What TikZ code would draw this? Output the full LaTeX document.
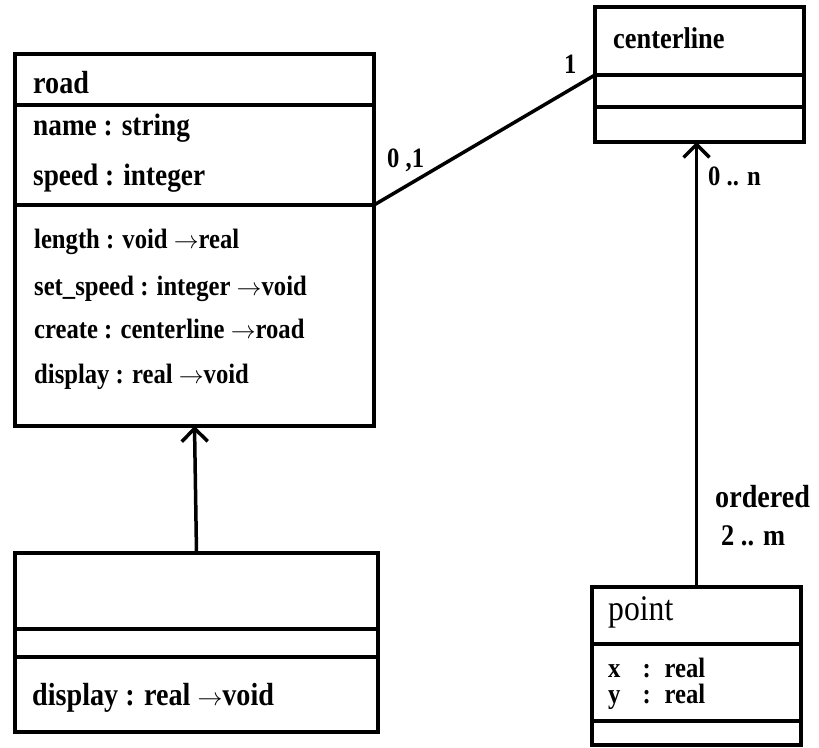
\documentclass[tikz,border=0pt]{standalone}
\usepackage{fontspec}
\setmainfont[FakeStretch=0.88]{Liberation Serif}
\usetikzlibrary{positioning,arrows.meta}

\begin{document}
\begin{tikzpicture}[
    x=1pt, y=-1pt,
    part/.style={
        rectangle,
        draw=black,
        line width=3.5pt,
        inner sep=0pt,
        outer sep=0pt
    },
    roadpart/.style={part, minimum width=359pt},
    linepart/.style={part, minimum width=209pt},
    subpart/.style={part, minimum width=363pt},
    clsname/.style={
        anchor=base west,
        inner sep=0pt,
        font=\fontsize{32}{34}\selectfont\bfseries
    },
    attr/.style={
        anchor=base west,
        inner sep=0pt,
        font=\fontsize{31}{33}\selectfont\bfseries
    },
    oper/.style={
        anchor=base west,
        inner sep=0pt,
        font=\fontsize{28}{30}\selectfont\bfseries
    },
    mult/.style={
        anchor=base west,
        inner sep=0pt,
        font=\fontsize{28}{30}\selectfont\bfseries
    },
    link/.style={line width=3.5pt},
    nav/.style={line width=3.5pt, -{Straight Barb[length=13pt,width=26pt]}}
]
\useasboundingbox (0,0) rectangle (819,747);

% Classes
\node[roadpart, anchor=north west, minimum height=51pt] (roadHead) at (15,54) {};
\node[roadpart, minimum height=100pt, below=0pt of roadHead] (roadAttr) {};
\node[roadpart, minimum height=221pt, below=0pt of roadAttr] (roadOps) {};

\node[linepart, anchor=north west, minimum height=68pt] (lineHead) at (595,7) {};
\node[linepart, minimum height=32pt, below=0pt of lineHead] (lineAttr) {};
\node[linepart, minimum height=35pt, below=0pt of lineAttr] (lineOps) {};

\node[subpart, anchor=north west, minimum height=76pt] (subHead) at (15,553) {};
\node[subpart, minimum height=28pt, below=0pt of subHead] (subAttr) {};
\node[subpart, minimum height=75pt, below=0pt of subAttr] (subOps) {};

\node[linepart, anchor=north west, minimum height=57pt] (pointHead) at (592,587) {};
\node[linepart, minimum height=77pt, below=0pt of pointHead] (pointAttr) {};
\node[linepart, minimum height=24pt, below=0pt of pointAttr] (pointOps) {};

% Texts
\node[clsname] (roadName) at (33,93) {road};
\node[attr] (roadA1) at (33,135) {name : string};
\node[attr] (roadA2) at (33,185) {speed : integer};
\node[oper] (roadO1) at (34,248) {length : void $\rightarrow$real};
\node[oper] (roadO2) at (34,295) {set\_speed : integer $\rightarrow$void};
\node[oper] (roadO3) at (34,338) {create : centerline $\rightarrow$road};
\node[oper] (roadO4) at (34,383) {display : real $\rightarrow$void};

\node[clsname, font=\fontsize{30}{32}\selectfont\bfseries] (lineName) at (613,48) {centerline};

\node[attr, font=\fontsize{32}{34}\selectfont\bfseries] (subO1) at (32,705) {display : real $\rightarrow$void};

\node[clsname, font=\fontsize{36}{38}\selectfont] (pointName) at (608,620) {point};
\node[attr, font=\fontsize{28}{30}\selectfont\bfseries] (pointA1) at (608,677) {x\hspace{22pt}:\hspace{14pt}real};
\node[attr, font=\fontsize{28}{30}\selectfont\bfseries] (pointA2) at (608,703) {y\hspace{22pt}:\hspace{14pt}real};

% Multiplicities
\node[mult] (m01) at (387,167) {0 ,1};
\node[mult] (m1) at (564,73) {1};
\node[mult] (m0n) at (708,185) {0 .. n};
\node[mult, font=\fontsize{32}{34}\selectfont\bfseries] (ord) at (715,507) {ordered};
\node[mult, font=\fontsize{30}{32}\selectfont\bfseries] (m2m) at (721,545) {2 .. m};

% Connectors
\draw[link] (roadAttr.south east) -- (lineHead.south west);
\draw[nav] (subHead.north) -- (roadOps.south);
\draw[nav] (pointHead.north) -- (pointHead.north |- lineOps.south);

\end{tikzpicture}
\end{document}
